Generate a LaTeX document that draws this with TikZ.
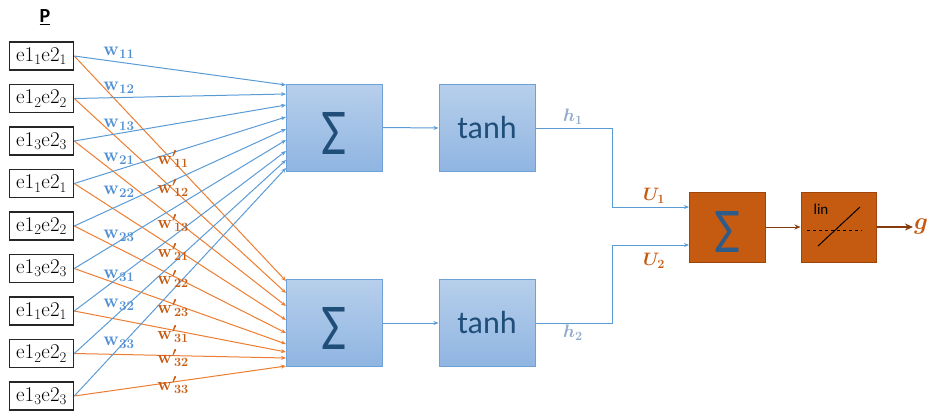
\documentclass[tikz,border=0pt]{standalone}
\usepackage{fix-cm}
\usepackage{bm}
\usepackage{fontspec}
\setmainfont{Latin Modern Roman}
\newfontfamily\calib{Carlito}
\usetikzlibrary{arrows.meta}
\definecolor{blueline}{HTML}{5B9BD5}
\definecolor{orangeline}{HTML}{ED7D31}
\definecolor{wlab}{HTML}{4F8FD2}
\definecolor{wplab}{HTML}{C55A11}
\definecolor{hlab}{HTML}{8EAACC}
\definecolor{boxborder}{HTML}{6FA0D8}
\definecolor{boxtop}{HTML}{B7CFEB}
\definecolor{boxbot}{HTML}{8FB5E2}
\definecolor{outfill}{HTML}{C55A11}
\definecolor{outborder}{HTML}{9E450C}
\definecolor{darkarrow}{HTML}{843C0C}
\definecolor{navy}{HTML}{1F4E79}
\definecolor{sigblue}{HTML}{2E5C8A}
\newcommand{\wlab}[1]{$\bm{\mathbf{w}_{\mathbf{#1}}}$}
\newcommand{\wplab}[1]{$\bm{{\mathbf{w}'}\!_{\mathbf{#1}}}$}
\tikzset{
  inbox/.style={draw=black!85,line width=1.5pt,minimum width=64pt,minimum height=28pt,inner sep=0pt,font=\fontsize{21}{21}\selectfont},
  bluebox/.style={draw=boxborder,line width=1pt,top color=boxtop,bottom color=boxbot,minimum width=96pt,minimum height=87pt,inner sep=0pt},
  outbox/.style={draw=outborder,line width=1pt,fill=outfill,minimum width=76pt,minimum height=70pt,inner sep=0pt},
  bl/.style={draw=blueline,line width=1pt,-{Stealth[length=5pt,width=4pt]}},
  ol/.style={draw=orangeline,line width=1pt,-{Stealth[length=5pt,width=4pt]}},
  wl/.style={text=wlab,font=\fontsize{19}{19}\selectfont,inner sep=0pt},
  wpl/.style={text=wplab,font=\fontsize{18}{18}\selectfont,inner sep=0pt},
  sig/.style={inner sep=0pt},
  tanhtxt/.style={font=\calib\fontsize{32}{32}\selectfont,text=navy}
}
\begin{document}
\begin{tikzpicture}[x=1pt,y=-1pt]
\useasboundingbox (0,0) rectangle (927,415);
% P label
\node[font=\calib\bfseries\fontsize{20}{20}\selectfont,inner sep=0pt] (P) at (45,17) {\underline{P}};
% inputs
\node[inbox] (in1) at (41.5,56) {$\mathrm{e1_{1}e2_{1}}$};
\node[inbox] (in2) at (41.5,98.5) {$\mathrm{e1_{2}e2_{2}}$};
\node[inbox] (in3) at (41.5,141) {$\mathrm{e1_{3}e2_{3}}$};
\node[inbox] (in4) at (41.5,183.5) {$\mathrm{e1_{1}e2_{1}}$};
\node[inbox] (in5) at (41.5,226) {$\mathrm{e1_{2}e2_{2}}$};
\node[inbox] (in6) at (41.5,268.5) {$\mathrm{e1_{3}e2_{3}}$};
\node[inbox] (in7) at (41.5,311) {$\mathrm{e1_{1}e2_{1}}$};
\node[inbox] (in8) at (41.5,353.5) {$\mathrm{e1_{2}e2_{2}}$};
\node[inbox] (in9) at (41.5,396) {$\mathrm{e1_{3}e2_{3}}$};
% blocks
\node[bluebox] (S1) at (334,127.5) {};
\node[sig,text=navy] (S1t) at (334,133) {\resizebox{25pt}{42pt}{\calib Σ}};
\node[bluebox] (T1) at (487,128) {};
\node[tanhtxt] (T1t) at (487,128) {tanh};
\node[bluebox] (S2) at (334,323) {};
\node[sig,text=navy] (S2t) at (334,328) {\resizebox{25pt}{42pt}{\calib Σ}};
\node[bluebox] (T2) at (487,323) {};
\node[tanhtxt] (T2t) at (487,323) {tanh};
\node[outbox] (O) at (727,227) {};
\node[sig,text=sigblue] (Ot) at (727,232) {\resizebox{26pt}{41pt}{\calib Σ}};
\node[outbox,minimum width=75pt] (L) at (838.5,227) {};
\node[font=\calib\fontsize{15}{15}\selectfont,inner sep=0pt] (lin) at (821,209) {lin};
\coordinate (d1) at (807,230);
\coordinate (d2) at (862,230);
\coordinate (s1) at (818,246);
\coordinate (s2) at (860,207);
\draw[black,line width=0.8pt,dash pattern=on 3pt off 3pt] (d1) -- (d2);
\draw[black,line width=1pt] (s1) -- (s2);
% target coordinates
\coordinate (a1) at (286,85);
\coordinate (a2) at (286,94);
\coordinate (a3) at (286,105);
\coordinate (a4) at (286,117);
\coordinate (a5) at (286,129);
\coordinate (a6) at (286,140);
\coordinate (a7) at (286,151);
\coordinate (a8) at (286,160);
\coordinate (a9) at (286,168);
\coordinate (b1) at (286,281);
\coordinate (b2) at (286,293);
\coordinate (b3) at (286,306);
\coordinate (b4) at (286,320);
\coordinate (b5) at (286,333);
\coordinate (b6) at (286,344);
\coordinate (b7) at (286,352);
\coordinate (b8) at (286,358);
\coordinate (b9) at (286,366);
\foreach \i in {1,...,9}{
  \draw[ol] (in\i.east) -- (b\i);
}
\foreach \i in {1,...,9}{
  \draw[bl] (in\i.east) -- (a\i);
}
% weight labels
\node[wl] (w11) at (119,53) {\wlab{11}};
\node[wl] (w12) at (119,88) {\wlab{12}};
\node[wl] (w13) at (119,125) {\wlab{13}};
\node[wl] (w21) at (119,159) {\wlab{21}};
\node[wl] (w22) at (119,192) {\wlab{22}};
\node[wl] (w23) at (119,236) {\wlab{23}};
\node[wl] (w31) at (119,276) {\wlab{31}};
\node[wl] (w32) at (119,305) {\wlab{32}};
\node[wl] (w33) at (119,343) {\wlab{33}};
\node[wpl] (wp11) at (173,159) {\wplab{11}};
\node[wpl] (wp12) at (173,188) {\wplab{12}};
\node[wpl] (wp13) at (173,223) {\wplab{13}};
\node[wpl] (wp21) at (173,252) {\wplab{21}};
\node[wpl] (wp22) at (173,279) {\wplab{22}};
\node[wpl] (wp23) at (173,308) {\wplab{23}};
\node[wpl] (wp31) at (173,334) {\wplab{31}};
\node[wpl] (wp32) at (173,358) {\wplab{32}};
\node[wpl] (wp33) at (173,385) {\wplab{33}};
% hidden
\draw[bl] (S1.east) -- (T1.west);
\draw[bl] (S2.east) -- (T2.west);
\coordinate (u1) at (689,207);
\coordinate (u2) at (689,245);
\coordinate (k) at (612,227);
\draw[bl] (T1.east) -- (T1.east -| k) |- (u1);
\draw[bl] (T2.east) -- (T2.east -| k) |- (u2);
\node[text=hlab,font=\fontsize{18}{18}\selectfont,inner sep=0pt] (h1) at (573,117) {$\bm{h_1}$};
\node[text=hlab,font=\fontsize{18}{18}\selectfont,inner sep=0pt] (h2) at (573,333) {$\bm{h_2}$};
\node[text=wplab,font=\fontsize{18}{18}\selectfont,inner sep=0pt] (U1) at (654,196) {$\bm{U_1}$};
\node[text=wplab,font=\fontsize{18}{18}\selectfont,inner sep=0pt] (U2) at (654,261) {$\bm{U_2}$};
% output
\draw[darkarrow,line width=1pt,-{Stealth[length=6pt,width=5pt]}] (O.east) -- (L.west);
\coordinate (gend) at (913,227);
\draw[darkarrow,line width=2.2pt,-{Stealth[length=8pt,width=7pt]}] (L.east) -- (gend);
\node[text=wplab,font=\fontsize{24}{24}\selectfont,inner sep=0pt,anchor=west] (g) at (914,226) {$\bm{g}$};
\end{tikzpicture}
\end{document}
